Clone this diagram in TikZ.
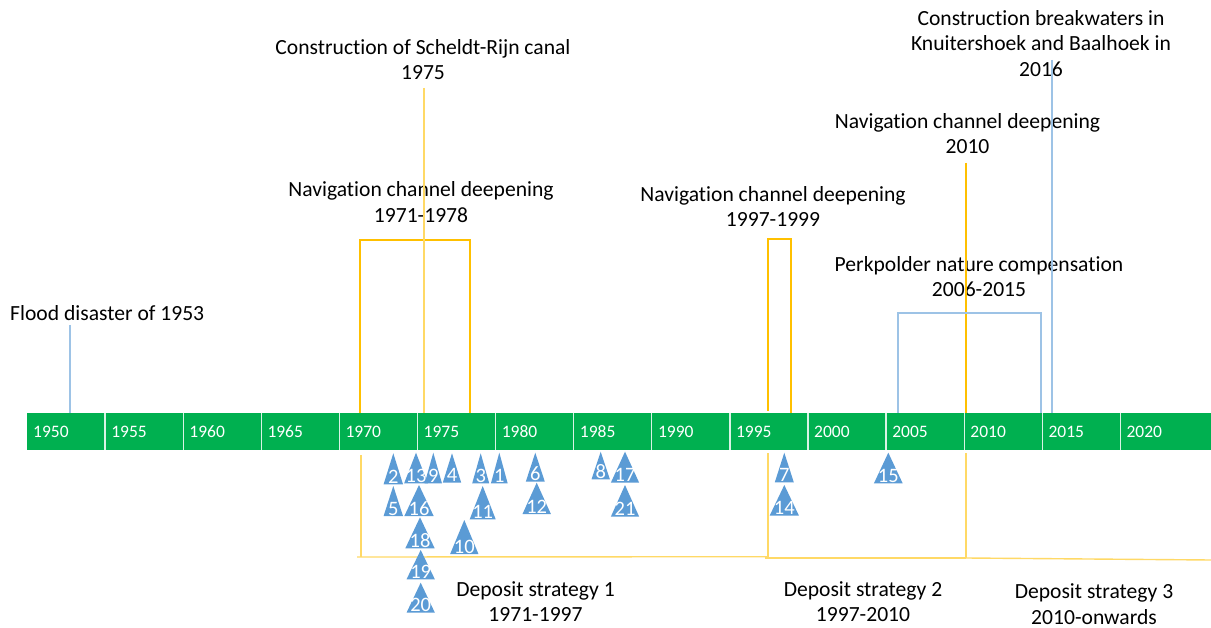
\documentclass[tikz,border=0pt]{standalone}
\usepackage{fontspec}
\setmainfont{Carlito}[Ligatures=NoCommon]
\definecolor{bargreen}{HTML}{00B050}
\definecolor{navorange}{HTML}{FFC000}
\definecolor{paleyellow}{HTML}{FFD966}
\definecolor{lineblue}{HTML}{9DC3E6}
\definecolor{triblue}{HTML}{5B9BD5}
\newcommand\tri[6]{%
  \fill[triblue] (#2,#3) -- ++(-#4/2,#5) -- ++(#4,0) -- cycle;
  \node[trinum] (#1) at (#2,#3+#5-1) {#6};
}
\begin{document}
\begin{tikzpicture}[x=1pt,y=-1pt,
  lbl/.style={font=\fontsize{21.6}{25.5}\selectfont, align=center, inner sep=0pt, anchor=north, text=black},
  yearlbl/.style={font=\fontsize{17.5}{20}\selectfont, text=white, inner sep=0pt, anchor=base west},
  trinum/.style={font=\fontsize{20.5}{22}\selectfont, text=white, inner sep=0pt, anchor=base},
  navline/.style={draw=navorange, line width=1.6pt},
  paleline/.style={draw=paleyellow, line width=1.4pt},
  blueline/.style={draw=lineblue, line width=1.1pt},
  divider/.style={draw=white!85!bargreen, line width=1.3pt}]
\useasboundingbox (0,0) rectangle (1211,628);
\fill[white] (0,0) rectangle (1211,628);

% ---- upper labels (top of node = first baseline - 17.85)
\node[lbl] (canal) at (423,54-17.85) {\strut Construction of Scheldt-Rijn canal\\\strut 1975};
\node[lbl] (nav1) at (421,196.5-17.85) {\strut Navigation channel deepening\\\strut 1971-1978};
\node[lbl] (nav2) at (773,201-17.85) {\strut Navigation channel deepening\\\strut 1997-1999};
\node[lbl] (nav3) at (967.5,128-17.85) {\strut Navigation channel deepening\\\strut 2010};
\node[lbl] (perk) at (979,271-17.85) {\strut Perkpolder nature compensation\\\strut 2006-2015};
\node[lbl] (brk) at (1041,25-17.85) {\strut Construction breakwaters in\\\strut Knuitershoek and Baalhoek in\\\strut 2016};
\node[lbl, anchor=base west] (flood) at (10,321) {Flood disaster of 1953};

% ---- connector coordinates
\coordinate (canalTop) at (424,88);   \coordinate (canalBar) at (424,413);
\coordinate (n1a) at (360,413); \coordinate (n1b) at (360,240); \coordinate (n1c) at (470,240); \coordinate (n1d) at (470,413);
\coordinate (n2a) at (768,411); \coordinate (n2b) at (768,239); \coordinate (n2c) at (791,239); \coordinate (n2d) at (791,413);
\coordinate (n3Top) at (966,163); \coordinate (n3Bar) at (966,413);
\coordinate (pa) at (898,413); \coordinate (pb) at (898,313); \coordinate (pc) at (1041,313); \coordinate (pd) at (1041,413);
\coordinate (brkTop) at (1052,60); \coordinate (brkBar) at (1052,413);
\coordinate (floodTop) at (70,325); \coordinate (floodBar) at (70,413);

\draw[navline] (n1a) -- (n1b) -- (n1c) -- (n1d);
\draw[navline] (n2a) -- (n2b) -- (n2c) -- (n2d);
\draw[navline] (n3Top) -- (n3Bar);
\draw[paleline] (canalTop) -- (canalBar);
\draw[blueline] (pa) -- (pb) -- (pc) -- (pd);
\draw[blueline] (brkTop) -- (brkBar);
\draw[blueline] (floodTop) -- (floodBar);

% ---- timeline bar
\fill[bargreen] (27,413) rectangle (1211,450);
\foreach \i in {1,...,14} {\draw[divider] (27+\i*78.1,413) -- (27+\i*78.1,450);}
\foreach \yr [count=\i from 0] in {1950,1955,1960,1965,1970,1975,1980,1985,1990,1995,2000,2005,2010,2015,2020} {
  \node[yearlbl] (y\yr) at (27+\i*78.1+6,437) {\yr};
}

% ---- deposit strategy brackets
\coordinate (d1a) at (361,455); \coordinate (d1b) at (361,557); \coordinate (d1l) at (357,557); \coordinate (d1r) at (767,556.7);
\coordinate (d2a) at (768,453); \coordinate (d2b) at (768,558); \coordinate (d2l) at (765,558); \coordinate (d2r) at (966,558);
\coordinate (d3a) at (966,453); \coordinate (d3b) at (966,558); \coordinate (d3r) at (1211,560);
\draw[paleline] (d1a) -- (d1b); \draw[paleline] (d1l) -- (d1r);
\draw[paleline] (d2a) -- (d2b); \draw[paleline] (d2l) -- (d2r);
\draw[paleline] (d3a) -- (d3b); \draw[paleline] (d3b) -- (d3r);

\node[lbl] (dep1) at (535.5,596-17.85) {\strut Deposit strategy 1\\\strut 1971-1997};
\node[lbl] (dep2) at (863,596-17.85) {\strut Deposit strategy 2\\\strut 1997-2010};
\node[lbl] (dep3) at (1094,598.5-17.85) {\strut Deposit strategy 3\\\strut 2010-onwards};

% ---- triangles
\tri{t2}{393.3}{453.3}{19.4}{31}{2}
\tri{t13}{416}{452.7}{23.7}{30.6}{13}
\tri{t9}{433.3}{452.7}{17.3}{30.6}{9}
\tri{t4}{452}{453.3}{18.4}{29.4}{4}
\tri{t3}{480.7}{453.3}{17}{30}{3}
\tri{t1}{499.3}{452.7}{16.7}{30.6}{1}
\tri{t6}{535.3}{452.7}{19}{29}{6}
\tri{t8}{600.7}{451.7}{18.3}{27.6}{8}
\tri{t17}{625}{451.7}{28.3}{31}{17}
\tri{t5}{393.3}{486}{19.4}{30}{5}
\tri{t16}{419}{485}{29.3}{31}{16}
\tri{t11}{482.7}{486}{26}{33.3}{11}
\tri{t12}{536.7}{482.7}{28.4}{31.3}{12}
\tri{t21}{625}{485}{28.3}{31.7}{21}
\tri{t18}{420}{517.3}{29.3}{31}{18}
\tri{t10}{464.3}{520}{28.3}{34}{10}
\tri{t19}{420.7}{550}{28.3}{29.3}{19}
\tri{t20}{420.7}{582.7}{28.3}{30}{20}
\tri{t7}{784.3}{452.7}{19}{29.6}{7}
\tri{t14}{784.3}{485}{29.3}{30.7}{14}
\tri{t15}{888.3}{452.7}{28.7}{30.6}{15}
\end{tikzpicture}
\end{document}
